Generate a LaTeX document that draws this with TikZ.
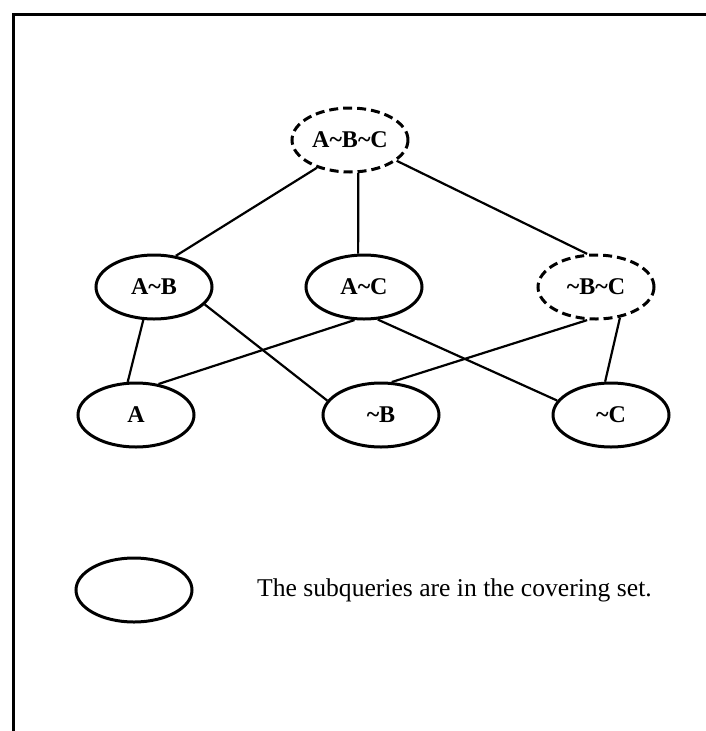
\documentclass[tikz,border=0pt]{standalone}
\usepackage{fontspec}
\setmainfont{Liberation Serif}
\usetikzlibrary{shapes.geometric}
\tikzset{
  qnode/.style={draw=black, ellipse, line width=3pt, minimum width=116pt, minimum height=64pt, inner sep=0pt, font=\bfseries\fontsize{24}{28}\selectfont},
  qdash/.style={qnode, dash pattern=on 9pt off 5pt},
  link/.style={draw=black, line width=2.2pt},
  frame/.style={draw=black, line width=3pt}
}

\begin{document}
\begin{tikzpicture}[x=1pt, y=-1pt]
  \useasboundingbox (0,0) rectangle (706,731);
  \draw[frame] (13,731) -- (13,14) -- (706,14);
  \node[qdash] (abc) at (350,140) {A\textasciitilde B\textasciitilde C};
  \node[qnode] (ab) at (154,287) {A\textasciitilde B};
  \node[qnode] (ac) at (364,287) {A\textasciitilde C};
  \node[qdash] (bc) at (596,287) {\textasciitilde B\textasciitilde C};
  \node[qnode] (a) at (136,415) {A};
  \node[qnode] (nb) at (381,415) {\textasciitilde B};
  \node[qnode] (nc) at (611,415) {\textasciitilde C};
  \draw[link] (abc.220) -- (ab.55);
  \draw[link] (abc.284) -- (ac.100);
  \draw[link] (abc.336) -- (bc.105);
  \draw[link] (ab.252) -- (a.104);
  \draw[link] (ab.341) -- (nb.165);
  \draw[link] (ac.254) -- (a.54);
  \draw[link] (ac.293) -- (nc.165);
  \draw[link] (bc.255) -- (nb.72);
  \draw[link] (bc.308) -- (nc.100);
  \node[qnode] (legend) at (134,590) {};
  \node[anchor=west, inner sep=0pt, font=\fontsize{25.6}{30}\selectfont] (legtext) at (257,590) {The subqueries are in the covering set.};
\end{tikzpicture}
\end{document}
